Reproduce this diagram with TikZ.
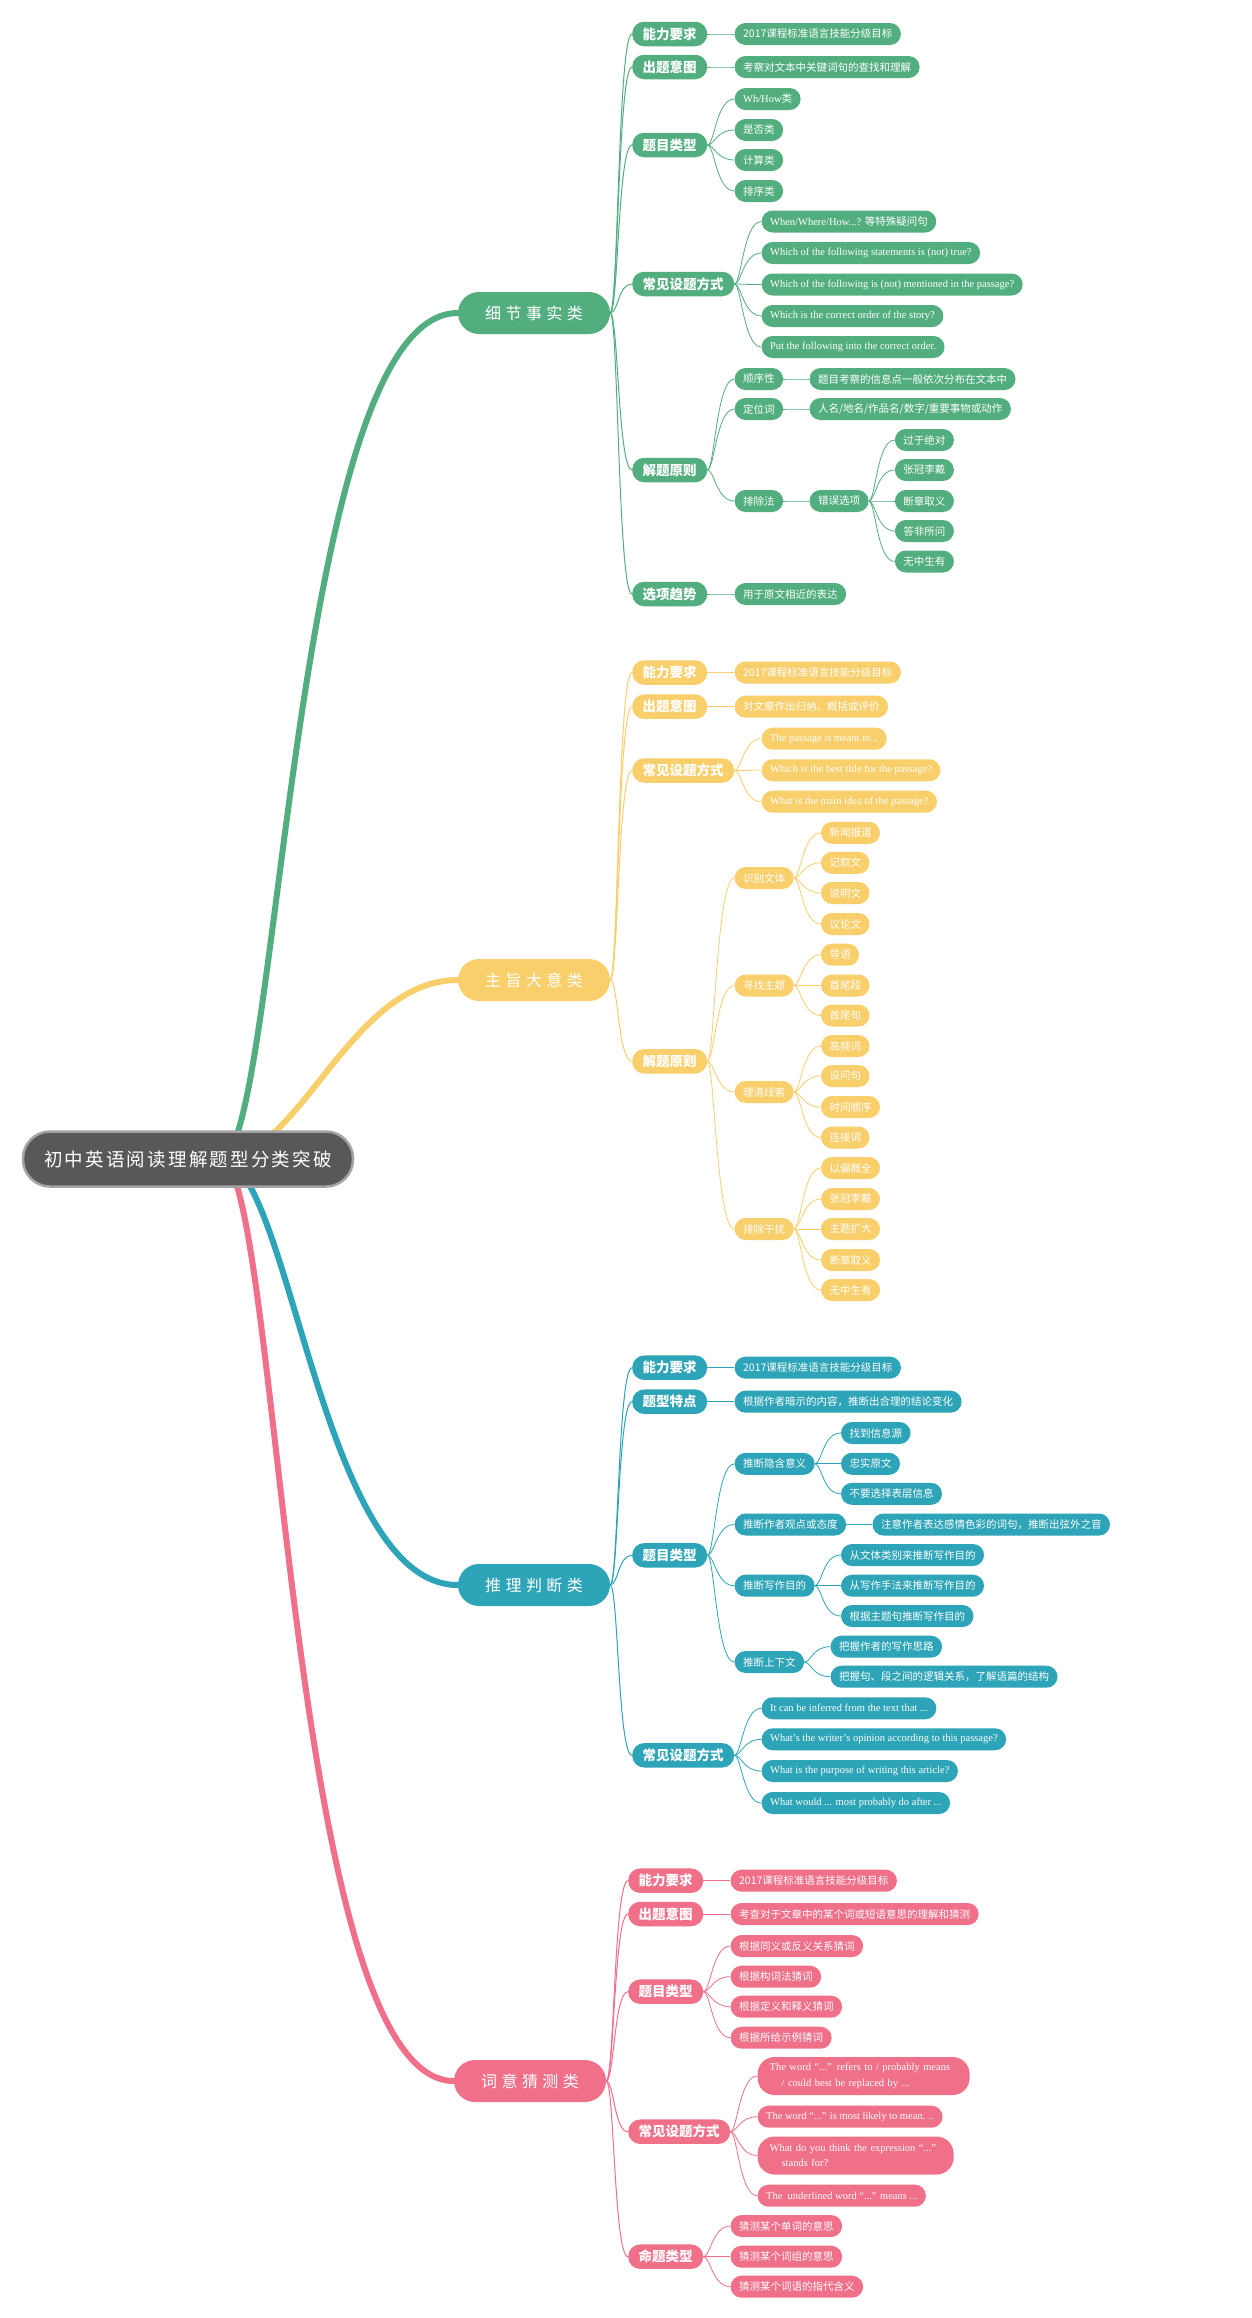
\documentclass[tikz,border=0pt]{standalone}
\usepackage{fontspec}
\setmainfont{Liberation Serif}
\newfontfamily\cjk{Noto Sans CJK SC}
\newfontfamily\cjkL[LetterSpace=28]{Noto Sans CJK SC}
\newfontfamily\cjkR[LetterSpace=12]{Noto Sans CJK SC}
\pgfdeclarelayer{bg}
\pgfsetlayers{bg,main}
\definecolor{cg}{HTML}{52AE7F}
\definecolor{cy}{HTML}{F9CF6C}
\definecolor{ct}{HTML}{2DA4B8}
\definecolor{cp}{HTML}{F06F89}
\definecolor{croot}{HTML}{5A5757}
\definecolor{crootb}{HTML}{A3A3A3}
\newcommand\lkA[3]{\draw[#1, line width=1pt] (#2.east) .. controls +(8,0) and +(-14,0) .. (#3.west);}
\newcommand\lkB[3]{\draw[#1, line width=0.8pt] (#2.east) .. controls +(7,0) and +(-18,0) .. (#3.west);}
\begin{document}
\begin{tikzpicture}[x=1pt,y=-1pt,
  rootbox/.style={fill=croot, draw=crootb, line width=2.5pt, text=white, rounded corners=27pt, minimum width=330pt, minimum height=55pt, inner sep=0pt, font=\cjkR\fontsize{18.5}{20}\selectfont},
  lv1/.style={fill=#1, text=white, rounded corners=21pt, minimum width=152pt, minimum height=42pt, inner sep=0pt, font=\cjkL\fontsize{16}{18}\selectfont},
  lv2/.style={fill=#1, text=white, rounded corners=12pt, minimum height=24.5pt, inner xsep=10.5pt, inner ysep=0pt, anchor=west, font=\cjk\bfseries\fontsize{13.5}{15}\selectfont},
  sb/.style={fill=#1, text=white, rounded corners=11pt, minimum height=22pt, inner xsep=8.5pt, inner ysep=0pt, anchor=west, font=\cjk\fontsize{10.5}{12}\selectfont},
  en/.style={fill=#1, text=white, rounded corners=11pt, minimum height=22pt, inner xsep=8.5pt, inner ysep=0pt, anchor=west, font=\rmfamily\fontsize{10.5}{12}\selectfont},
  trunk/.style={line width=6pt, line cap=round}
]
\useasboundingbox (0,0) rectangle (1252,2318);
\begin{pgfonlayer}{bg}
\fill[white] (0,0) rectangle (1252,2318);
\end{pgfonlayer}

% root
\node[rootbox] (R) at (188,1159) {初中英语阅读理解题型分类突破};
\coordinate (rs) at ([xshift=32pt]R.center);

% level 1
\node[lv1=cg] (G) at (534,313) {细节事实类};
\node[lv1=cy] (Y) at (534,980) {主旨大意类};
\node[lv1=ct] (T) at (534,1585) {推理判断类};
\node[lv1=cp] (P) at (530,2081) {词意猜测类};

\begin{pgfonlayer}{bg}
\draw[trunk, cg] (rs) .. controls +(60,0) and +(-168,0) .. (G.west);
\draw[trunk, cy] (rs) .. controls +(80,0) and +(-108,0) .. (Y.west);
\draw[trunk, ct] (rs) .. controls +(70,0) and +(-138,0) .. (T.west);
\draw[trunk, cp] (rs) .. controls +(60,0) and +(-168,0) .. (P.west);
\end{pgfonlayer}

% ================= green =================
\node[lv2=cg] (g1) at (632,34) {能力要求};
\node[sb=cg,xshift=27pt] (g1a) at (g1.east |- 0,34) {2017课程标准语言技能分级目标};
\node[lv2=cg] (g2) at (632,67) {出题意图};
\node[sb=cg,xshift=27pt] (g2a) at (g2.east |- 0,67) {考察对文本中关键词句的查找和理解};
\node[lv2=cg] (g3) at (632,145) {题目类型};
\node[sb=cg,xshift=27pt] (g3a) at (g3.east |- 0,99) {{\rmfamily Wh/How}类};
\node[sb=cg,xshift=27pt] (g3b) at (g3.east |- 0,130) {是否类};
\node[sb=cg,xshift=27pt] (g3c) at (g3.east |- 0,160) {计算类};
\node[sb=cg,xshift=27pt] (g3d) at (g3.east |- 0,191) {排序类};
\node[lv2=cg] (g4) at (632,284) {常见设题方式};
\node[en=cg,xshift=27pt] (g4a) at (g4.east |- 0,221.5) {When/Where/How...? {\cjk 等特殊疑问句}};
\node[en=cg,xshift=27pt] (g4b) at (g4.east |- 0,253) {Which of the following statements is (not) true?};
\node[en=cg,xshift=27pt] (g4c) at (g4.east |- 0,284.5) {Which of the following is (not) mentioned in the passage?};
\node[en=cg,xshift=27pt] (g4d) at (g4.east |- 0,316) {Which is the correct order of the story?};
\node[en=cg,xshift=27pt] (g4e) at (g4.east |- 0,347) {Put the following into the correct order.};
\node[lv2=cg] (g5) at (632,470) {解题原则};
\node[sb=cg,xshift=27pt] (g5a) at (g5.east |- 0,379) {顺序性};
\node[sb=cg,xshift=26pt] (g5a1) at (g5a.east |- 0,379) {题目考察的信息点一般依次分布在文本中};
\node[sb=cg,xshift=27pt] (g5b) at (g5.east |- 0,409) {定位词};
\node[sb=cg,xshift=26pt] (g5b1) at (g5b.east |- 0,409) {人名/地名/作品名/数字/重要事物或动作};
\node[sb=cg,xshift=27pt] (g5c) at (g5.east |- 0,501) {排除法};
\node[sb=cg,xshift=26pt] (g5c1) at (g5c.east |- 0,501) {错误选项};
\node[sb=cg,xshift=26pt] (g5c1a) at (g5c1.east |- 0,440) {过于绝对};
\node[sb=cg,xshift=26pt] (g5c1b) at (g5c1.east |- 0,470) {张冠李戴};
\node[sb=cg,xshift=26pt] (g5c1c) at (g5c1.east |- 0,501) {断章取义};
\node[sb=cg,xshift=26pt] (g5c1d) at (g5c1.east |- 0,531) {答非所问};
\node[sb=cg,xshift=26pt] (g5c1e) at (g5c1.east |- 0,561.5) {无中生有};
\node[lv2=cg] (g6) at (632,594) {选项趋势};
\node[sb=cg,xshift=27pt] (g6a) at (g6.east |- 0,594) {用于原文相近的表达};

\foreach \c in {g1,g2,g3,g4,g5,g6} {\lkA{cg}{G}{\c}}
\lkB{cg}{g1}{g1a}
\lkB{cg}{g2}{g2a}
\foreach \c in {g3a,g3b,g3c,g3d} {\lkB{cg}{g3}{\c}}
\foreach \c in {g4a,g4b,g4c,g4d,g4e} {\lkB{cg}{g4}{\c}}
\foreach \c in {g5a,g5b,g5c} {\lkB{cg}{g5}{\c}}
\lkB{cg}{g5a}{g5a1}
\lkB{cg}{g5b}{g5b1}
\lkB{cg}{g5c}{g5c1}
\foreach \c in {g5c1a,g5c1b,g5c1c,g5c1d,g5c1e} {\lkB{cg}{g5c1}{\c}}
\lkB{cg}{g6}{g6a}

% ================= yellow =================
\node[lv2=cy] (y1) at (632,672.5) {能力要求};
\node[sb=cy,xshift=27pt] (y1a) at (y1.east |- 0,672.5) {2017课程标准语言技能分级目标};
\node[lv2=cy] (y2) at (632,706.7) {出题意图};
\node[sb=cy,xshift=27pt] (y2a) at (y2.east |- 0,706.7) {对文章作出归纳、概括或评价};
\node[lv2=cy] (y3) at (632,770.5) {常见设题方式};
\node[en=cy,xshift=27pt] (y3a) at (y3.east |- 0,738.7) {The passage is meant to...};
\node[en=cy,xshift=27pt] (y3b) at (y3.east |- 0,770.3) {Which is the best title for the passage?};
\node[en=cy,xshift=27pt] (y3c) at (y3.east |- 0,801.7) {What is the main idea of the passage?};
\node[lv2=cy] (y4) at (632,1061.3) {解题原则};
\node[sb=cy,xshift=27pt] (y4a) at (y4.east |- 0,878) {识别文体};
\node[sb=cy,xshift=27pt] (y4a1) at (y4a.east |- 0,832.8) {新闻报道};
\node[sb=cy,xshift=27pt] (y4a2) at (y4a.east |- 0,862.8) {记叙文};
\node[sb=cy,xshift=27pt] (y4a3) at (y4a.east |- 0,893) {说明文};
\node[sb=cy,xshift=27pt] (y4a4) at (y4a.east |- 0,924) {议论文};
\node[sb=cy,xshift=27pt] (y4b) at (y4.east |- 0,985.5) {寻找主题};
\node[sb=cy,xshift=27pt] (y4b1) at (y4b.east |- 0,954.7) {导语};
\node[sb=cy,xshift=27pt] (y4b2) at (y4b.east |- 0,985.5) {首尾段};
\node[sb=cy,xshift=27pt] (y4b3) at (y4b.east |- 0,1015.5) {首尾句};
\node[sb=cy,xshift=27pt] (y4c) at (y4.east |- 0,1092) {理清线索};
\node[sb=cy,xshift=27pt] (y4c1) at (y4c.east |- 0,1046) {高频词};
\node[sb=cy,xshift=27pt] (y4c2) at (y4c.east |- 0,1076) {设问句};
\node[sb=cy,xshift=27pt] (y4c3) at (y4c.east |- 0,1107) {时间顺序};
\node[sb=cy,xshift=27pt] (y4c4) at (y4c.east |- 0,1137.5) {连接词};
\node[sb=cy,xshift=27pt] (y4d) at (y4.east |- 0,1229) {排除干扰};
\node[sb=cy,xshift=27pt] (y4d1) at (y4d.east |- 0,1168) {以偏概全};
\node[sb=cy,xshift=27pt] (y4d2) at (y4d.east |- 0,1199) {张冠李戴};
\node[sb=cy,xshift=27pt] (y4d3) at (y4d.east |- 0,1229) {主题扩大};
\node[sb=cy,xshift=27pt] (y4d4) at (y4d.east |- 0,1260) {断章取义};
\node[sb=cy,xshift=27pt] (y4d5) at (y4d.east |- 0,1290) {无中生有};

\foreach \c in {y1,y2,y3,y4} {\lkA{cy}{Y}{\c}}
\lkB{cy}{y1}{y1a}
\lkB{cy}{y2}{y2a}
\foreach \c in {y3a,y3b,y3c} {\lkB{cy}{y3}{\c}}
\foreach \c in {y4a,y4b,y4c,y4d} {\lkB{cy}{y4}{\c}}
\foreach \c in {y4a1,y4a2,y4a3,y4a4} {\lkB{cy}{y4a}{\c}}
\foreach \c in {y4b1,y4b2,y4b3} {\lkB{cy}{y4b}{\c}}
\foreach \c in {y4c1,y4c2,y4c3,y4c4} {\lkB{cy}{y4c}{\c}}
\foreach \c in {y4d1,y4d2,y4d3,y4d4,y4d5} {\lkB{cy}{y4d}{\c}}

% ================= teal =================
\node[lv2=ct] (t1) at (632,1367.7) {能力要求};
\node[sb=ct,xshift=27pt] (t1a) at (t1.east |- 0,1367.7) {2017课程标准语言技能分级目标};
\node[lv2=ct] (t2) at (632,1401.7) {题型特点};
\node[sb=ct,xshift=27pt] (t2a) at (t2.east |- 0,1401.7) {根据作者暗示的内容，推断出合理的结论变化};
\node[lv2=ct] (t3) at (632,1555.3) {题目类型};
\node[sb=ct,xshift=27pt] (t3a) at (t3.east |- 0,1463.8) {推断隐含意义};
\node[sb=ct,xshift=26pt] (t3a1) at (t3a.east |- 0,1433) {找到信息源};
\node[sb=ct,xshift=26pt] (t3a2) at (t3a.east |- 0,1463.8) {忠实原文};
\node[sb=ct,xshift=26pt] (t3a3) at (t3a.east |- 0,1493.8) {不要选择表层信息};
\node[sb=ct,xshift=27pt] (t3b) at (t3.east |- 0,1524.5) {推断作者观点或态度};
\node[sb=ct,xshift=26pt] (t3b1) at (t3b.east |- 0,1524.5) {注意作者表达感情色彩的词句，推断出弦外之音};
\node[sb=ct,xshift=27pt] (t3c) at (t3.east |- 0,1585.7) {推断写作目的};
\node[sb=ct,xshift=26pt] (t3c1) at (t3c.east |- 0,1555) {从文体类别来推断写作目的};
\node[sb=ct,xshift=26pt] (t3c2) at (t3c.east |- 0,1585.7) {从写作手法来推断写作目的};
\node[sb=ct,xshift=26pt] (t3c3) at (t3c.east |- 0,1616) {根据主题句推断写作目的};
\node[sb=ct,xshift=27pt] (t3d) at (t3.east |- 0,1662) {推断上下文};
\node[sb=ct,xshift=26pt] (t3d1) at (t3d.east |- 0,1646.7) {把握作者的写作思路};
\node[sb=ct,xshift=26pt] (t3d2) at (t3d.east |- 0,1676.7) {把握句、段之间的逻辑关系，了解语篇的结构};
\node[lv2=ct] (t4) at (632,1755.3) {常见设题方式};
\node[en=ct,xshift=27pt] (t4a) at (t4.east |- 0,1708.3) {It can be inferred from the text that ...};
\node[en=ct,xshift=27pt] (t4b) at (t4.east |- 0,1739.3) {What’s the writer’s opinion according to this passage?};
\node[en=ct,xshift=27pt] (t4c) at (t4.east |- 0,1771) {What is the purpose of writing this article?};
\node[en=ct,xshift=27pt] (t4d) at (t4.east |- 0,1803) {What would ... most probably do after ...};

\foreach \c in {t1,t2,t3,t4} {\lkA{ct}{T}{\c}}
\lkB{ct}{t1}{t1a}
\lkB{ct}{t2}{t2a}
\foreach \c in {t3a,t3b,t3c,t3d} {\lkB{ct}{t3}{\c}}
\foreach \c in {t3a1,t3a2,t3a3} {\lkB{ct}{t3a}{\c}}
\lkB{ct}{t3b}{t3b1}
\foreach \c in {t3c1,t3c2,t3c3} {\lkB{ct}{t3c}{\c}}
\foreach \c in {t3d1,t3d2} {\lkB{ct}{t3d}{\c}}
\foreach \c in {t4a,t4b,t4c,t4d} {\lkB{ct}{t4}{\c}}

% ================= pink =================
\node[lv2=cp] (p1) at (628,1880.7) {能力要求};
\node[sb=cp,xshift=27pt] (p1a) at (p1.east |- 0,1880.7) {2017课程标准语言技能分级目标};
\node[lv2=cp] (p2) at (628,1914) {出题意图};
\node[sb=cp,xshift=27pt] (p2a) at (p2.east |- 0,1914) {考查对于文章中的某个词或短语意思的理解和猜测};
\node[lv2=cp] (p3) at (628,1991.7) {题目类型};
\node[sb=cp,xshift=27pt] (p3a) at (p3.east |- 0,1946) {根据同义或反义关系猜词};
\node[sb=cp,xshift=27pt] (p3b) at (p3.east |- 0,1976.7) {根据构词法猜词};
\node[sb=cp,xshift=27pt] (p3c) at (p3.east |- 0,2006.7) {根据定义和释义猜词};
\node[sb=cp,xshift=27pt] (p3d) at (p3.east |- 0,2037.7) {根据所给示例猜词};
\node[lv2=cp] (p4) at (628,2131.7) {常见设题方式};
\node[en=cp,xshift=27pt,align=left,text width=188pt,inner xsep=12pt,minimum height=38pt,rounded corners=17pt,font=\rmfamily\fontsize{10.5}{15.5}\selectfont] (p4a) at (p4.east |- 0,2076) {The word “...” refers to / probably means\\\hspace*{12pt}/ could best be replaced by ...};
\node[en=cp,xshift=27pt] (p4b) at (p4.east |- 0,2116.7) {The word “...” is most likely to mean. ..};
\node[en=cp,xshift=27pt,align=left,text width=172pt,inner xsep=12pt,minimum height=38pt,rounded corners=17pt,font=\rmfamily\fontsize{10.5}{15.5}\selectfont] (p4c) at (p4.east |- 0,2155.5) {What do you think the expression “...”\\\hspace*{12pt}stands for?};
\node[en=cp,xshift=27pt] (p4d) at (p4.east |- 0,2195.7) {The \ underlined word “...” means ...};
\node[lv2=cp] (p5) at (628,2256.7) {命题类型};
\node[sb=cp,xshift=27pt] (p5a) at (p5.east |- 0,2226) {猜测某个单词的意思};
\node[sb=cp,xshift=27pt] (p5b) at (p5.east |- 0,2256.7) {猜测某个词组的意思};
\node[sb=cp,xshift=27pt] (p5c) at (p5.east |- 0,2286.7) {猜测某个词语的指代含义};

\foreach \c in {p1,p2,p3,p4,p5} {\lkA{cp}{P}{\c}}
\lkB{cp}{p1}{p1a}
\lkB{cp}{p2}{p2a}
\foreach \c in {p3a,p3b,p3c,p3d} {\lkB{cp}{p3}{\c}}
\foreach \c in {p4a,p4b,p4c,p4d} {\lkB{cp}{p4}{\c}}
\foreach \c in {p5a,p5b,p5c} {\lkB{cp}{p5}{\c}}
\end{tikzpicture}
\end{document}
